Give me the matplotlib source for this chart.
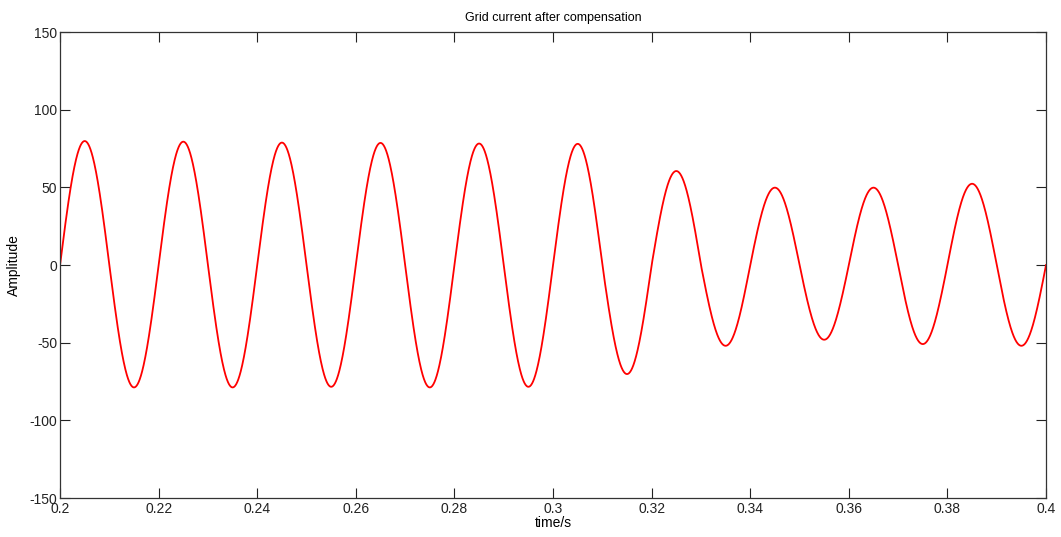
import numpy as np
import matplotlib.pyplot as plt

plt.rcParams['font.family'] = ['Liberation Sans', 'DejaVu Sans']
plt.rcParams['axes.unicode_minus'] = False

# half-cycle extremes (50 Hz, starts at t = 0.2 s)
peaks = [79.8, 79.4, 78.8, 78.6, 78.2, 78.0, 60.5, 49.8, 49.8, 52.3]
troughs = [-78.8, -78.8, -78.4, -78.8, -78.4, -70.2, -52.0, -48.1, -50.9, -52.0]
freq = 50.0
t_start, t_end = 0.2, 0.4

xticks = [0.2, 0.22, 0.24, 0.26, 0.28, 0.3, 0.32, 0.34, 0.36, 0.38, 0.4]
xtick_labels = ['0.2', '0.22', '0.24', '0.26', '0.28', '0.3', '0.32', '0.34', '0.36', '0.38', '0.4']
yticks = [-150, -100, -50, 0, 50, 100, 150]

# each half cycle is a sine lobe scaled to its own extreme
half = 0.5 / freq
t = np.linspace(t_start, t_end, 4001)
k = np.minimum(((t - t_start) / half).astype(int), 2 * len(peaks) - 1)
amp = np.where(k % 2 == 0, np.take(peaks, k // 2), -np.take(troughs, k // 2))
current = amp * np.sin(2 * np.pi * freq * (t - t_start))

fig = plt.figure(figsize=(10.61, 5.37), dpi=100)
ax = fig.add_axes([0.0566, 0.0726, 0.9293, 0.8678])

ax.plot(t, current, color='red', linewidth=1.3)

ax.set_xlim(t_start, t_end)
ax.set_ylim(-150, 150)
ax.set_xticks(xticks)
ax.set_xticklabels(xtick_labels)
ax.set_yticks(yticks)
ax.tick_params(direction='in', length=7, width=0.8, top=True, right=True,
               labelsize=10, colors='#222222')
ax.tick_params(axis='x', pad=3)
ax.tick_params(axis='y', pad=2)
for s in ax.spines.values():
    s.set_linewidth(0.9)
    s.set_color('#333333')

ax.set_title('Grid current after compensation', fontsize=9, pad=8)
ax.set_xlabel('time/s', fontsize=10, labelpad=0)
ax.set_ylabel('Amplitude', fontsize=10, labelpad=6)

fig.savefig('out.png', dpi=100)
